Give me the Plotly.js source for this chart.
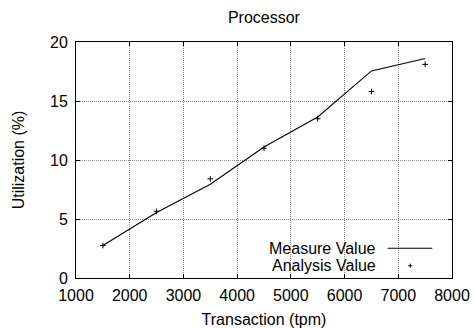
<!DOCTYPE html>
<html>
<head>
<meta charset="utf-8">
<script src="https://cdn.plot.ly/plotly-3.0.1.min.js"></script>
<style>html,body{margin:0;padding:0;background:#fff;}#chart{width:475px;height:328px;}</style>
</head>
<body>
<div id="chart"></div>
<script>
var transactions = [1500, 2500, 3500, 4500, 5500, 6500, 7500];
var measureValue = [2.75, 5.55, 7.95, 11.1, 13.65, 17.55, 18.6];
var analysisValue = [2.75, 5.65, 8.4, 11.0, 13.5, 15.8, 18.1];
var seriesNames = ["Measure Value", "Analysis Value"];
var xTicks = [1000, 2000, 3000, 4000, 5000, 6000, 7000, 8000];
var yTicks = [0, 5, 10, 15, 20];

var font = {family: "Liberation Sans, Arial, sans-serif", size: 16, color: "#000"};

var traces = [
  {x: transactions, y: measureValue, type: "scatter", mode: "lines", name: seriesNames[0],
   line: {color: "#000", width: 1.1}, showlegend: false},
  {x: transactions, y: analysisValue, type: "scatter", mode: "markers", name: seriesNames[1],
   marker: {symbol: "cross-thin", size: 4, line: {color: "#000", width: 1}}, showlegend: false}
];

var axisCommon = {
  showline: true, linecolor: "#000", linewidth: 1, mirror: "allticks",
  ticks: "inside", ticklen: 4, tickcolor: "#000", tickwidth: 1,
  showgrid: true, gridcolor: "#8c8c8c", gridwidth: 1, griddash: "1px,1px",
  zeroline: false, tickfont: font, automargin: false
};

var layout = {
  width: 475, height: 328,
  margin: {l: 76, r: 23, t: 42, b: 50},
  paper_bgcolor: "#fff", plot_bgcolor: "#fff",
  font: font,
  showlegend: false,
  title: {text: "Processor", font: font, x: 0.5556, xanchor: "center", y: 0.947, yanchor: "middle", yref: "container"},
  xaxis: Object.assign({}, axisCommon, {
    range: [xTicks[0], xTicks[xTicks.length - 1]],
    tickvals: xTicks, ticktext: xTicks.map(String),
    ticklabelstandoff: 3,
    title: {text: "Transaction (tpm)", font: font, standoff: 11}
  }),
  yaxis: Object.assign({}, axisCommon, {
    range: [yTicks[0], yTicks[yTicks.length - 1]],
    tickvals: yTicks, ticktext: yTicks.map(String),
    ticklabelstandoff: 4,
    title: {text: "Utilization (%)", font: font, standoff: 21}
  }),
  shapes: [
    {type: "rect", xref: "paper", yref: "paper", x0: 0.484, x1: 0.997, y0: 0.003, y1: 0.161,
     fillcolor: "#fff", line: {width: 0}, layer: "between"},
    {type: "line", xref: "paper", yref: "paper", x0: 0.829, x1: 0.9476, y0: 0.1258, y1: 0.1258,
     line: {color: "#000", width: 1.1}, layer: "above"},
    {type: "line", xref: "paper", yref: "paper", x0: 0.889 - 0.0053, x1: 0.889 + 0.0053, y0: 0.0521, y1: 0.0521,
     line: {color: "#000", width: 1}, layer: "above"},
    {type: "line", xref: "paper", yref: "paper", x0: 0.889, x1: 0.889, y0: 0.0521 - 0.0085, y1: 0.0521 + 0.0085,
     line: {color: "#000", width: 1}, layer: "above"}
  ],
  annotations: [
    {text: seriesNames[0], xref: "paper", yref: "paper", x: 0.8024, y: 0.1258, xanchor: "right", yanchor: "middle",
     showarrow: false, font: font},
    {text: seriesNames[1], xref: "paper", yref: "paper", x: 0.8024, y: 0.0521, xanchor: "right", yanchor: "middle",
     showarrow: false, font: font}
  ]
};

Plotly.newPlot("chart", traces, layout, {staticPlot: true, displayModeBar: false});
</script>
</body>
</html>
